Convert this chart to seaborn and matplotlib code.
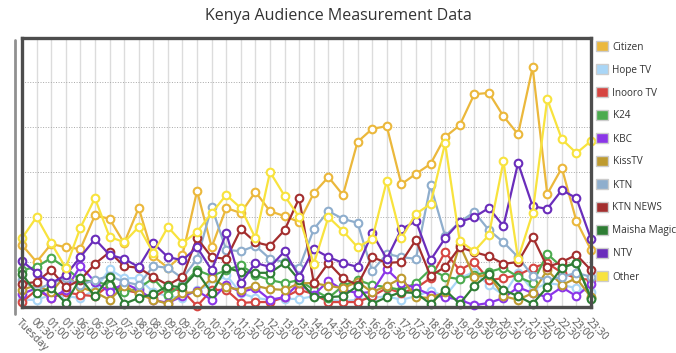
import seaborn as sns
import matplotlib.pyplot as plt
import pandas as pd
from matplotlib.patches import Patch
from matplotlib.lines import Line2D

times = ["Tuesday", "00:30", "01:00", "01:30", "06:00", "06:30", "07:00", "07:30", "08:00", "08:30",
         "09:00", "09:30", "10:00", "10:30", "11:00", "11:30", "12:00", "12:30", "13:00", "13:30",
         "14:00", "14:30", "15:00", "15:30", "16:00", "16:30", "17:00", "17:30", "18:00", "18:30",
         "19:00", "19:30", "20:00", "20:30", "21:00", "21:30", "22:00", "22:30", "23:00", "23:30"]

citizen = [13.8, 10.0, 14.0, 13.3, 12.9, 20.4, 19.6, 14.2, 22.0, 11.3, 8.7, 11.6, 25.8, 13.3, 22.0,
           20.9, 25.6, 21.3, 20.2, 18.9, 25.3, 28.9, 24.9, 36.7, 39.6, 40.2, 27.3, 29.6, 31.8, 37.8,
           40.4, 47.3, 47.6, 42.4, 38.4, 53.3, 25.1, 30.9, 19.1, 12.7]
hope_tv = [1.6, 1.6, 2.7, 2.4, 2.0, 3.8, 8.4, 6.4, 6.4, 3.3, 2.4, 2.0, 3.8, 4.9, 7.1, 3.1, 2.0, 1.6,
           1.8, 1.8, 2.4, 1.6, 1.3, 1.6, 2.0, 2.4, 1.6, 2.4, 3.6, 2.4, 6.4, 7.8, 4.9, 2.7, 7.6, 3.8,
           5.3, 4.9, 4.2, 3.3]
inooro_tv = [1.1, 3.8, 2.0, 3.3, 2.7, 2.4, 4.9, 3.8, 3.1, 2.0, 4.2, 3.6, 0.2, 3.8, 3.8, 0.9, 1.1, 1.1,
             2.2, 3.8, 2.9, 1.1, 1.1, 1.1, 2.4, 4.2, 3.1, 4.2, 6.4, 12.2, 8.2, 10.0, 6.0, 6.4, 7.1,
             8.7, 9.8, 7.6, 6.4, 6.0]
k24 = [8.2, 8.9, 10.9, 8.7, 6.0, 5.6, 4.9, 3.3, 4.2, 6.4, 2.7, 4.9, 8.2, 6.9, 8.2, 9.3, 7.1, 6.0, 5.3,
       6.0, 3.8, 2.0, 4.7, 6.0, 4.9, 4.4, 3.8, 5.3, 8.4, 6.7, 6.2, 7.1, 7.8, 8.7, 6.7, 5.3, 11.8, 8.9,
       9.8, 2.0]
kbc = [2.9, 4.2, 2.0, 3.8, 9.1, 5.6, 3.3, 5.3, 3.8, 1.6, 0.9, 2.4, 3.6, 1.6, 4.9, 3.3, 4.2, 1.6, 2.2,
       5.3, 2.7, 5.8, 3.8, 3.1, 3.3, 8.4, 5.3, 4.2, 2.7, 2.2, 1.6, 0.4, 0.9, 2.0, 4.4, 3.1, 2.2, 4.4,
       2.4, 5.1]
kiss_tv = [3.8, 4.9, 3.3, 7.1, 4.4, 3.3, 1.6, 4.7, 2.9, 1.6, 0.7, 3.1, 3.3, 6.4, 4.4, 3.8, 4.7, 4.0,
           3.8, 5.3, 5.3, 4.7, 4.2, 5.6, 3.3, 4.7, 6.4, 2.2, 2.0, 3.3, 13.8, 6.7, 7.1, 2.4, 1.6, 3.1,
           8.2, 4.9, 6.4, 2.2]
ktn = [6.0, 3.8, 5.3, 6.4, 4.9, 6.0, 6.9, 5.6, 4.9, 9.1, 8.7, 6.4, 10.7, 22.2, 12.7, 12.4, 13.6, 10.7,
       10.0, 8.7, 17.3, 21.3, 19.6, 18.7, 8.0, 11.8, 11.1, 10.7, 27.1, 15.8, 18.9, 21.1, 17.1, 14.4,
       11.1, 6.9, 6.0, 6.7, 7.6, 6.7]
ktn_news = [5.1, 5.6, 8.2, 4.4, 6.0, 9.6, 12.2, 9.1, 8.7, 6.7, 4.9, 6.7, 15.3, 11.1, 10.7, 17.3, 14.4,
            13.6, 17.1, 24.2, 5.3, 9.8, 6.4, 4.9, 11.1, 9.8, 10.0, 14.9, 6.9, 8.9, 13.3, 12.2, 11.3,
            9.6, 10.0, 15.6, 8.9, 10.0, 11.6, 8.2]
maisha_magic = [7.3, 3.1, 4.2, 0.9, 6.4, 2.4, 6.7, 0.7, 2.0, 2.9, 4.7, 4.4, 7.8, 3.1, 8.7, 7.8, 7.6,
                7.6, 9.8, 6.0, 2.2, 2.2, 2.4, 4.7, 0.7, 2.2, 3.3, 3.1, 0.7, 3.8, 0.7, 4.7, 7.3, 3.8,
                2.4, 0.7, 4.4, 8.7, 9.8, 1.8]
ntv = [10.2, 7.6, 5.3, 7.1, 11.1, 15.1, 11.6, 10.7, 8.9, 14.2, 11.1, 10.4, 13.3, 8.2, 16.4, 5.3, 9.8,
       8.9, 12.4, 6.7, 12.9, 11.1, 9.8, 8.9, 16.4, 10.7, 17.3, 19.1, 10.4, 15.3, 18.9, 20.0, 22.0,
       18.0, 32.0, 22.4, 21.8, 26.0, 24.2, 15.1]
other = [15.3, 20.0, 14.2, 8.7, 17.6, 24.2, 15.6, 14.4, 17.8, 12.0, 17.8, 14.2, 16.7, 20.9, 24.9, 22.0,
         15.3, 30.0, 24.7, 20.0, 9.6, 20.0, 16.9, 13.3, 15.1, 28.0, 15.3, 20.7, 22.9, 36.4, 14.7, 12.4,
         16.0, 32.4, 10.7, 20.9, 46.2, 37.3, 34.2, 36.9]

channels = ["Citizen", "Hope TV", "Inooro TV", "K24", "KBC", "KissTV", "KTN", "KTN NEWS",
            "Maisha Magic", "NTV", "Other"]
series = [citizen, hope_tv, inooro_tv, k24, kbc, kiss_tv, ktn, ktn_news, maisha_magic, ntv, other]
colors = ["#EBB83C", "#A9D6F7", "#D64541", "#4CAB4F", "#8B36E8", "#BE9B30", "#8FAECD", "#A32E2E",
          "#2E7D34", "#6A2DBB", "#F8E33E"]

sns.set_style("white")
plt.rcParams['font.family'] = ['Open Sans', 'DejaVu Sans']

fig = plt.figure(figsize=(6.76, 3.53), dpi=100)
ax = fig.add_axes([22/676, 1-307/353, (591-22)/676, (307-38)/353])

for name, values, color in zip(channels, series, colors):
    df = pd.DataFrame({"time": times, "value": values})
    sns.lineplot(data=df, x="time", y="value", ax=ax, color=color, lw=1.6, sort=False,
                 marker="o", markersize=5.5, markerfacecolor="white",
                 markeredgecolor=color, markeredgewidth=1.5, clip_on=False)

ax.set_xlim(0, len(times) - 1)
ax.set_ylim(0, 59.8)
ax.set_xticks(range(len(times)))
ax.set_xticklabels(times, rotation=-45, ha="left", va="top", rotation_mode="anchor",
                   fontsize=7.5, color="#555555")
ax.set_yticks([10, 20, 30, 40, 50])
ax.set_yticklabels([])
ax.tick_params(length=0, pad=7)
ax.grid(axis="x", color="#dcdcdc", lw=1)
ax.grid(axis="y", color="#a8a8a8", lw=0.7, linestyle=":")
ax.set_xlabel("")
ax.set_ylabel("")
for s in ax.spines.values():
    s.set_color("#4d4d4d")
    s.set_linewidth(2.4)

fig.add_artist(Line2D([15/676, 15/676], [1-40/353, 1-314/353], color="#909090", lw=2))

fig.text(0.5, 1-16/353, "Kenya Audience Measurement Data", ha="center", va="center",
         fontsize=11.5, color="#333333")

handles = [Patch(facecolor=c, edgecolor="#cccccc", lw=1) for c in colors]
fig.legend(handles, channels, loc="upper left", bbox_to_anchor=(596/676, 1-41/353),
           frameon=False, fontsize=7.2, handlelength=1.2, handleheight=1.2, labelspacing=1.15,
           handletextpad=0.45, borderaxespad=0, borderpad=0, labelcolor="#333333")

fig.savefig("out.png", dpi=100)
